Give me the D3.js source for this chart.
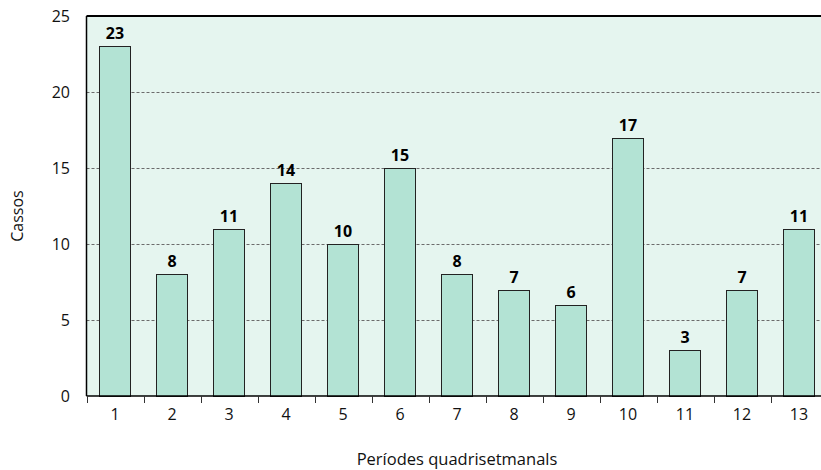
<!DOCTYPE html>
<html>
<head>
<meta charset="utf-8">
<script src="https://cdn.jsdelivr.net/npm/d3@7"></script>
<style>
  body { margin: 0; background: #fff; }
  svg { display: block; }
  text { font-family: "Open Sans", "Liberation Sans", sans-serif; }
</style>
</head>
<body>
<div id="main"></div>
<script>
const periods = ["1", "2", "3", "4", "5", "6", "7", "8", "9", "10", "11", "12", "13"];
const values = [23, 8, 11, 14, 10, 15, 8, 7, 6, 17, 3, 7, 11];
const yTicks = [0, 5, 10, 15, 20, 25];

const svgWidth = 821;
const svgHeight = 470;
const plotLeft = 86.5, plotTop = 16, plotBottom = 396;
const plotWidth = 741;

const svg = d3.select("#main")
              .append("svg")
              .attr("width", svgWidth)
              .attr("height", svgHeight);

const xScale = d3.scaleBand()
                 .domain(periods)
                 .range([plotLeft, plotLeft + plotWidth])
                 .paddingInner(0.45)
                 .paddingOuter(0.225);

const yScale = d3.scaleLinear()
                 .domain([0, 25])
                 .range([plotBottom, plotTop]);

// plot background
svg.append("rect")
   .attr("x", plotLeft)
   .attr("y", plotTop)
   .attr("width", plotWidth)
   .attr("height", plotBottom - plotTop)
   .attr("fill", "#e5f5ef");

// dotted grid lines
svg.selectAll(".grid")
   .data(yTicks.filter(d => d > 0 && d < 25))
   .enter()
   .append("line")
   .attr("x1", plotLeft)
   .attr("x2", plotLeft + plotWidth)
   .attr("y1", d => Math.round(yScale(d)) + 0.5)
   .attr("y2", d => Math.round(yScale(d)) + 0.5)
   .attr("stroke", "#6b6b6b")
   .attr("stroke-width", 1)
   .attr("stroke-dasharray", "3,2");

// bars
svg.selectAll(".bar")
   .data(values)
   .enter()
   .append("rect")
   .attr("class", "bar")
   .attr("x", (d, i) => Math.round(xScale(periods[i])) + 0.5)
   .attr("y", d => Math.round(yScale(d)) + 0.5)
   .attr("width", Math.round(xScale.bandwidth()))
   .attr("height", d => Math.round(plotBottom) - Math.round(yScale(d)))
   .attr("fill", "#b3e3d4")
   .attr("stroke", "#222")
   .attr("stroke-width", 1);

// value labels
svg.selectAll(".label")
   .data(values)
   .enter()
   .append("text")
   .attr("x", (d, i) => xScale(periods[i]) + xScale.bandwidth() / 2)
   .attr("y", d => yScale(d) - 7)
   .attr("text-anchor", "middle")
   .attr("font-family", "DejaVu Sans, sans-serif")
   .attr("font-size", "16px")
   .attr("font-weight", "bold")
   .attr("fill", "#000")
   .text(d => d);

// frame: top and left
svg.append("line")
   .attr("x1", plotLeft).attr("x2", plotLeft + plotWidth)
   .attr("y1", plotTop).attr("y2", plotTop)
   .attr("stroke", "#000").attr("stroke-width", 2);
svg.append("line")
   .attr("x1", plotLeft).attr("x2", plotLeft)
   .attr("y1", plotTop).attr("y2", plotBottom)
   .attr("stroke", "#000").attr("stroke-width", 1.5);

// x axis
const xAxis = d3.axisBottom(xScale).tickSize(0).tickPadding(13);
const gx = svg.append("g")
   .attr("transform", "translate(0," + plotBottom + ")")
   .call(xAxis);
gx.select(".domain").attr("stroke", "#000").attr("stroke-width", 1.5)
  .attr("d", "M" + plotLeft + ",0H" + (plotLeft + plotWidth));
gx.selectAll("text")
  .attr("font-size", "16px")
  .attr("font-family", "Open Sans, sans-serif")
  .attr("fill", "#111");

// x tick marks at band boundaries
const step = xScale.step();
const bounds = d3.range(periods.length + 1).map(i => plotLeft + i * step);
svg.selectAll(".xtick")
   .data(bounds)
   .enter()
   .append("line")
   .attr("x1", d => Math.round(d) + 0.5)
   .attr("x2", d => Math.round(d) + 0.5)
   .attr("y1", plotBottom)
   .attr("y2", plotBottom + 7)
   .attr("stroke", "#333")
   .attr("stroke-width", 1);

// y axis labels
svg.selectAll(".ylab")
   .data(yTicks)
   .enter()
   .append("text")
   .attr("x", 70)
   .attr("y", d => yScale(d) + 6)
   .attr("text-anchor", "end")
   .attr("font-size", "16px")
   .attr("fill", "#111")
   .text(d => d);

// axis titles
svg.append("text")
   .attr("transform", "translate(23,216) rotate(-90)")
   .attr("text-anchor", "middle")
   .attr("font-size", "16px")
   .attr("fill", "#111")
   .text("Cassos");

svg.append("text")
   .attr("x", 457)
   .attr("y", 465)
   .attr("text-anchor", "middle")
   .attr("font-size", "16.5px")
   .attr("fill", "#111")
   .text("Períodes quadrisetmanals");
</script>
</body>
</html>
